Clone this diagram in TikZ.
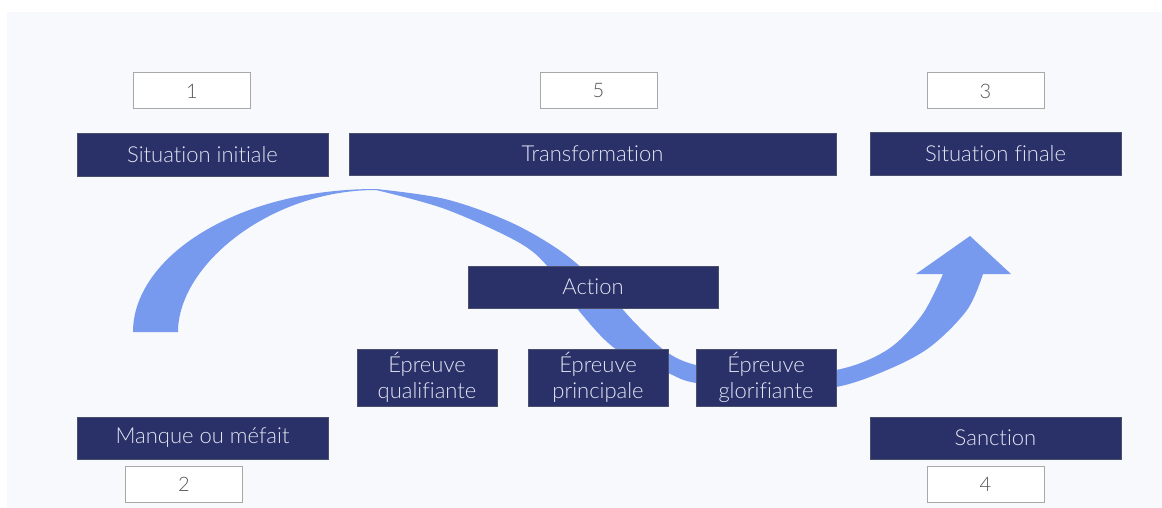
\documentclass[tikz,border=0pt]{standalone}
\usepackage{fontspec}
\setmainfont{Lato}[UprightFont=* Light, Ligatures=NoCommon]
\definecolor{bgpanel}{HTML}{F8F9FD}
\definecolor{navy}{HTML}{2A3068}
\definecolor{navyline}{HTML}{4A4F6E}
\definecolor{boxtext}{HTML}{E2E5F2}
\definecolor{arrowblue}{HTML}{7799EE}
\definecolor{numline}{HTML}{A8A8A8}
\definecolor{numtext}{HTML}{555555}
\tikzset{
  stagebox/.style={draw=navyline, fill=navy, text=boxtext, line width=0.8pt,
    rectangle, inner sep=0pt, align=center, font=\fontsize{22}{25.5}\selectfont},
  numbox/.style={draw=numline, fill=white, text=numtext, line width=1pt,
    rectangle, inner sep=0pt, minimum width=117pt, minimum height=36pt,
    font=\fontsize{20}{22}\selectfont},
}
\begin{document}
\begin{tikzpicture}[x=1pt,y=-1pt]
\useasboundingbox (0,0) rectangle (1162,508);
\fill[white] (0,0) rectangle (1162,508);
\fill[bgpanel] (7,12) rectangle (1162,508);

% big curved arrow
\fill[arrowblue]
  (133,332) .. controls (133,258) and (235,189) .. (376,189)
  -- plot[smooth, tension=0.55] coordinates {(376,189) (445,199) (510,222) (562,252) (602,287) (637,325) (668,353) (700,366) (760,374) (836,370) (887,350) (922,315) (943,274)}
  -- (916,274) -- (970,236) -- (1011,274) -- (983,274)
  -- plot[smooth, tension=0.55] coordinates {(983,274) (967,310) (930,347) (887,370) (836,387) (770,391) (696,383) (668,373) (617,350) (580,312) (549,268) (518,242) (445,209) (376,190)}
  .. controls (270,190) and (178,265) .. (178,332) -- cycle;

% number boxes
\node[numbox] (n1) at (192,91) {1};
\node[numbox] (n5) at (598.5,90.5) {5};
\node[numbox] (n3) at (985.5,91) {3};
\node[numbox] (n2) at (184,484) {2};
\node[numbox] (n4) at (985.5,484) {4};

% stage boxes
\node[stagebox, minimum width=251pt, minimum height=43pt] (sinit) at (202.5,154.5) {Situation initiale};
\node[stagebox, minimum width=487pt, minimum height=42pt] (trans) at (592.5,154) {Transformation};
\node[stagebox, minimum width=251pt, minimum height=43pt] (sfin) at (995.5,153.5) {Situation finale};
\node[stagebox, minimum width=250pt, minimum height=42pt] (action) at (593,287) {Action};
\node[stagebox, minimum width=140pt, minimum height=57pt] (eq) at (427,377.5) {Épreuve\\qualifiante};
\node[stagebox, minimum width=140pt, minimum height=57pt] (ep) at (598,377.5) {Épreuve\\principale};
\node[stagebox, minimum width=140pt, minimum height=57pt] (eg) at (766,377.5) {Épreuve\\glorifiante};
\node[stagebox, minimum width=251pt, minimum height=42pt] (manque) at (202.5,438) {Manque ou méfait};
\node[stagebox, minimum width=251pt, minimum height=42pt] (sanc) at (995.5,438) {Sanction};
\end{tikzpicture}
\end{document}
